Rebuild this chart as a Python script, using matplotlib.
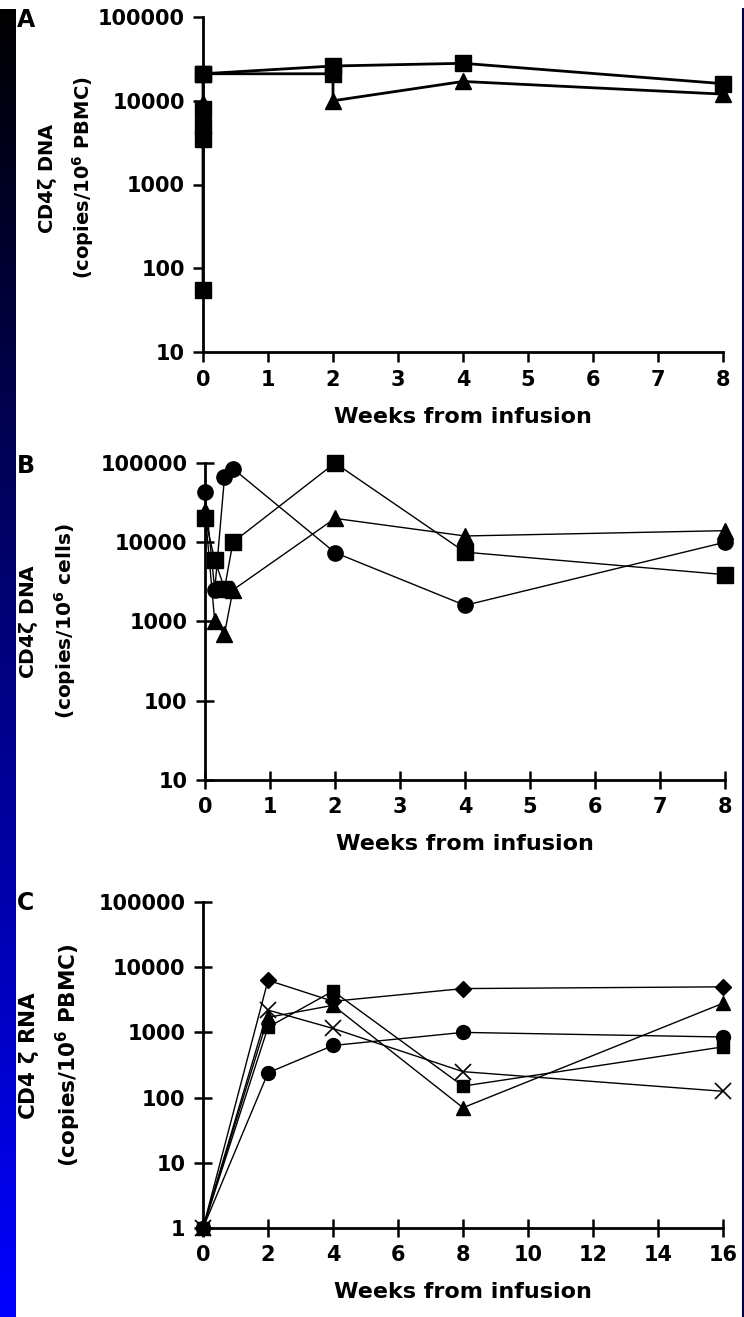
import numpy as np
import matplotlib
matplotlib.use("Agg")
import matplotlib.pyplot as plt

plt.rcParams['font.family'] = ['DejaVu Sans']
plt.rcParams['font.weight'] = 'bold'
plt.rcParams['mathtext.default'] = 'bf'

# Panel A: CD4zeta DNA (copies/10^6 PBMC)
a_sq_x = [0, 0, 0, 0, 0, 2, 4, 8]
a_sq_y = [55, 3500, 5000, 8000, 21000, 26000, 28000, 16000]
a_tri_x = [0, 2, 2, 4, 8]
a_tri_y = [21000, 21000, 10000, 17000, 12000]
a_tri0_y = [9500]

# Panel B: CD4zeta DNA (copies/10^6 cells)
b_x = [0, 0.15, 0.3, 0.43, 2, 4, 8]
b_circle = [43000, 2500, 66000, 85000, 7400, 1600, 10000]
b_square = [20000, 6000, 2600, 10000, 100000, 7500, 3900]
b_triangle = [25000, 1000, 700, 2500, 20000, 12000, 14000]

# Panel C: CD4zeta RNA (copies/10^6 PBMC)
c_x = [0, 2, 4, 8, 16]
c_diamond = [1, 6300, 3000, 4700, 5000]
c_square = [1, 1200, 4300, 150, 600]
c_triangle = [1, 1700, 2600, 70, 2800]
c_cross = [1, 2200, 1150, 250, 125]
c_circle = [1, 240, 630, 1000, 850]

W, H = 744, 1317
fig = plt.figure(figsize=(W / 100, H / 100), dpi=100)

# left gradient strip and right border
strip = fig.add_axes([0, 0, 16 / W, (H - 9) / H])
grad = np.linspace(0, 1, 256).reshape(-1, 1)
cols = np.zeros((256, 1, 3))
cols[:, 0, 2] = grad[:, 0]
strip.imshow(cols, aspect='auto', extent=[0, 1, 0, 1], origin='upper')
strip.axis('off')
fig.add_artist(plt.Line2D([742.5 / W, 742.5 / W], [0, 1 - 9 / H], color='#000050', lw=1.5))


def make_axes(left, right, top, bottom):
    return fig.add_axes([left / W, 1 - bottom / H, (right - left) / W, (bottom - top) / H])


def style(ax, ylo, xmax, xticks, tickdir):
    ax.set_yscale('log')
    ax.set_ylim(ylo, 100000)
    ax.set_xlim(0, xmax)
    ax.set_xticks(xticks)
    ax.set_yticks([10 ** k for k in range(int(np.log10(ylo)), 6)])
    ax.set_yticklabels([str(10 ** k) for k in range(int(np.log10(ylo)), 6)])
    ax.minorticks_off()
    for s in ['top', 'right']:
        ax.spines[s].set_visible(False)
    for s in ['left', 'bottom']:
        ax.spines[s].set_linewidth(2)
    ln = 13 if tickdir == 'inout' else 7
    ax.tick_params(direction=tickdir, length=ln, width=1.8, labelsize=15, pad=6)
    ax.set_xlabel('Weeks from infusion', fontsize=16, fontweight='bold', labelpad=12)
    for lab in ax.get_xticklabels() + ax.get_yticklabels():
        lab.set_fontweight('bold')


def line(ax, x, y, marker, ms, lw):
    ax.plot(x, y, color='black', lw=lw, marker=marker, ms=ms, mfc='black', mec='black', clip_on=False, zorder=3)


# Panel A
axA = make_axes(203, 723, 17, 352)
line(axA, a_sq_x, a_sq_y, 's', 11, 2)
axA.plot(a_tri_x, a_tri_y, color='black', lw=2, marker='^', ms=11, markevery=[2, 3, 4], clip_on=False, zorder=3)
axA.plot(a_tri_x[:2], a_tri_y[:2], ls='none', marker='s', ms=11, color='black', clip_on=False, zorder=3)
axA.plot([0], a_tri0_y, ls='none', marker='^', ms=11, color='black', clip_on=False, zorder=3)
style(axA, 10, 8, range(0, 9), 'out')
axA.set_ylabel('CD4$\\zeta$ DNA\n(copies/10$^{6}$ PBMC)', fontsize=14, fontweight='bold', linespacing=1.6)
axA.yaxis.set_label_coords(-0.205, 0.52)

# Panel B
axB = make_axes(205, 725, 463, 780)
line(axB, b_x, b_circle, 'o', 11, 1)
line(axB, b_x, b_square, 's', 11, 1)
line(axB, b_x, b_triangle, '^', 11, 1)
style(axB, 10, 8, range(0, 9), 'inout')
axB.set_ylabel('CD4$\\zeta$ DNA\n(copies/10$^{6}$ cells)', fontsize=14.5, fontweight='bold', linespacing=1.6)
axB.yaxis.set_label_coords(-0.245, 0.5)

# Panel C
axC = make_axes(203, 723, 902, 1228)
line(axC, c_x, c_diamond, 'D', 8, 1)
line(axC, c_x, c_square, 's', 9, 1)
line(axC, c_x, c_triangle, '^', 10, 1)
axC.plot(c_x, c_cross, color='black', lw=1, marker='x', ms=11, mew=1.2, clip_on=False, zorder=3)
line(axC, c_x, c_circle, 'o', 10, 1)
style(axC, 1, 16, range(0, 17, 2), 'inout')
axC.set_ylabel('CD4 $\\zeta$ RNA\n(copies/10$^{6}$ PBMC)', fontsize=15.5, fontweight='bold', linespacing=1.6)
axC.yaxis.set_label_coords(-0.23, 0.53)

for lab, y in zip(['A', 'B', 'C'], [20, 466, 903]):
    fig.text(17 / W, 1 - y / H, lab, fontsize=17, fontweight='bold', va='center', ha='left')

fig.savefig('out.png', dpi=100, facecolor='white')
